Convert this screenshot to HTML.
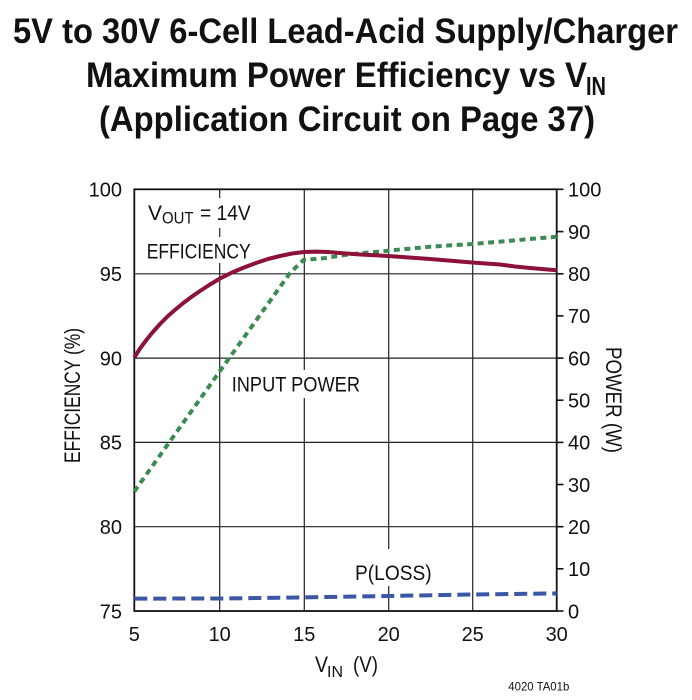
<!DOCTYPE html>
<html>
<head>
<meta charset="utf-8">
<style>
  html,body{margin:0;padding:0;background:#fff;}
  svg{display:block;}
  text{font-family:"Liberation Sans",Arial,sans-serif;fill:#111;}
</style>
</head>
<body>
<svg width="692" height="700" viewBox="0 0 692 700" xmlns="http://www.w3.org/2000/svg">
  <rect x="0" y="0" width="692" height="700" fill="#fff"/>

  <!-- Title -->
  <g font-weight="bold">
    <text x="13" y="43" font-size="35" textLength="665" lengthAdjust="spacingAndGlyphs">5V to 30V 6-Cell Lead-Acid Supply/Charger</text>
    <text x="86" y="87" font-size="35" textLength="501" lengthAdjust="spacingAndGlyphs">Maximum Power Efficiency vs V</text>
    <text x="586" y="95" font-size="26" textLength="20" lengthAdjust="spacingAndGlyphs">IN</text>
    <text x="99" y="131" font-size="35" textLength="496" lengthAdjust="spacingAndGlyphs">(Application Circuit on Page 37)</text>
  </g>

  <!-- Grid -->
  <g stroke="#222" stroke-width="1.2">
    <line x1="219.7" y1="189.3" x2="219.7" y2="611"/>
    <line x1="304.3" y1="189.3" x2="304.3" y2="611"/>
    <line x1="388.7" y1="189.3" x2="388.7" y2="611"/>
    <line x1="472.7" y1="189.3" x2="472.7" y2="611"/>
    <line x1="134.3" y1="273.8" x2="556.7" y2="273.8"/>
    <line x1="134.3" y1="358.1" x2="556.7" y2="358.1"/>
    <line x1="134.3" y1="442.4" x2="556.7" y2="442.4"/>
    <line x1="134.3" y1="526.7" x2="556.7" y2="526.7"/>
  </g>

  <!-- label backgrounds -->
  <g fill="#fff">
    <rect x="145" y="198" width="108" height="30"/>
    <rect x="144" y="237" width="110" height="26"/>
    <rect x="229" y="370" width="134" height="28"/>
    <rect x="352" y="549" width="83" height="37"/>
  </g>

  <!-- Frame -->
  <rect x="134.3" y="189.3" width="422.4" height="421.7" fill="none" stroke="#111" stroke-width="1.8"/>

  <!-- Right axis ticks -->
  <g stroke="#111" stroke-width="1.6">
    <line x1="556.7" y1="611" x2="563.5" y2="611"/>
    <line x1="556.7" y1="568.8" x2="563.5" y2="568.8"/>
    <line x1="556.7" y1="526.7" x2="563.5" y2="526.7"/>
    <line x1="556.7" y1="484.5" x2="563.5" y2="484.5"/>
    <line x1="556.7" y1="442.4" x2="563.5" y2="442.4"/>
    <line x1="556.7" y1="400.2" x2="563.5" y2="400.2"/>
    <line x1="556.7" y1="358.1" x2="563.5" y2="358.1"/>
    <line x1="556.7" y1="315.9" x2="563.5" y2="315.9"/>
    <line x1="556.7" y1="273.8" x2="563.5" y2="273.8"/>
    <line x1="556.7" y1="231.6" x2="563.5" y2="231.6"/>
    <line x1="556.7" y1="189.3" x2="563.5" y2="189.3"/>
  </g>

  <!-- Left tick labels -->
  <g font-size="20" text-anchor="end">
    <text x="122" y="196.6">100</text>
    <text x="122" y="281.1">95</text>
    <text x="122" y="365.4">90</text>
    <text x="122" y="449.7">85</text>
    <text x="122" y="534">80</text>
    <text x="122" y="618.5">75</text>
  </g>

  <!-- Right tick labels -->
  <g font-size="20">
    <text x="568" y="618.3">0</text>
    <text x="568" y="576.1">10</text>
    <text x="568" y="534">20</text>
    <text x="568" y="491.8">30</text>
    <text x="568" y="449.7">40</text>
    <text x="568" y="407.5">50</text>
    <text x="568" y="365.4">60</text>
    <text x="568" y="323.2">70</text>
    <text x="568" y="281.1">80</text>
    <text x="568" y="238.9">90</text>
    <text x="568" y="196.6">100</text>
  </g>

  <!-- X tick labels -->
  <g font-size="20" text-anchor="middle">
    <text x="134.3" y="641">5</text>
    <text x="219.7" y="641">10</text>
    <text x="304.3" y="641">15</text>
    <text x="388.7" y="641">20</text>
    <text x="472.7" y="641">25</text>
    <text x="556.7" y="641">30</text>
  </g>

  <!-- Axis titles -->
  <text transform="translate(80,395.5) rotate(-90)" font-size="22" text-anchor="middle" textLength="135" lengthAdjust="spacingAndGlyphs">EFFICIENCY (%)</text>
  <text transform="translate(606,400) rotate(90)" font-size="22" text-anchor="middle" textLength="106" lengthAdjust="spacingAndGlyphs">POWER (W)</text>

  <text x="315" y="672" font-size="22" textLength="13" lengthAdjust="spacingAndGlyphs">V</text>
  <text x="327" y="677" font-size="16" textLength="16" lengthAdjust="spacingAndGlyphs">IN</text>
  <text x="353" y="672" font-size="22" textLength="25" lengthAdjust="spacingAndGlyphs">(V)</text>

  <!-- In-plot labels -->
  <text x="148" y="220" font-size="21" textLength="14" lengthAdjust="spacingAndGlyphs">V</text>
  <text x="162" y="223.5" font-size="17" textLength="31.5" lengthAdjust="spacingAndGlyphs">OUT</text>
  <text x="200" y="220" font-size="21" textLength="50.7" lengthAdjust="spacingAndGlyphs">= 14V</text>
  <text x="146.7" y="258.3" font-size="21" textLength="104" lengthAdjust="spacingAndGlyphs">EFFICIENCY</text>
  <text x="231.7" y="391.7" font-size="21" textLength="128.3" lengthAdjust="spacingAndGlyphs">INPUT POWER</text>
  <text x="355" y="580" font-size="21" textLength="76.7" lengthAdjust="spacingAndGlyphs">P(LOSS)</text>

  <!-- P(LOSS) blue dashed -->
  <polyline fill="none" stroke="#3b56a3" stroke-width="4" stroke-dasharray="13 6"
    points="134.3,598.6 220,598.5 304,597.4 388,596 472,594.5 556.7,593.4"/>

  <!-- Input power green dotted -->
  <polyline fill="none" stroke="#3d8a55" stroke-width="4" stroke-dasharray="6 4.5" stroke-linejoin="round"
    points="134.3,491.5 220.7,370 290,273 303.5,260 323,258.3 350,254.3 388,250.7 430,246.7 472.7,244 556.7,236.7"/>

  <!-- Efficiency red solid -->
  <polyline fill="none" stroke="#8c1238" stroke-width="4" stroke-linejoin="round" stroke-linecap="butt"
    points="134.3,357.5 140,348.5 146,340.5 152,333 160,324 168,316 176,309 184,302.5 192,296.5 200,291 210,284.5 220,278.5 232,272.5 244,267.5 256,263 268,259 280,256 292,253.5 304,252 316,251.6 328,252 340,253 360,254.5 388,256 430,259 472,262.5 500,264.5 515,266.5 530,268 556.7,270.3"/>

  <!-- footnote -->
  <text x="508.3" y="690.7" font-size="12" fill="#333" textLength="61" lengthAdjust="spacingAndGlyphs">4020 TA01b</text>
</svg>
</body>
</html>
